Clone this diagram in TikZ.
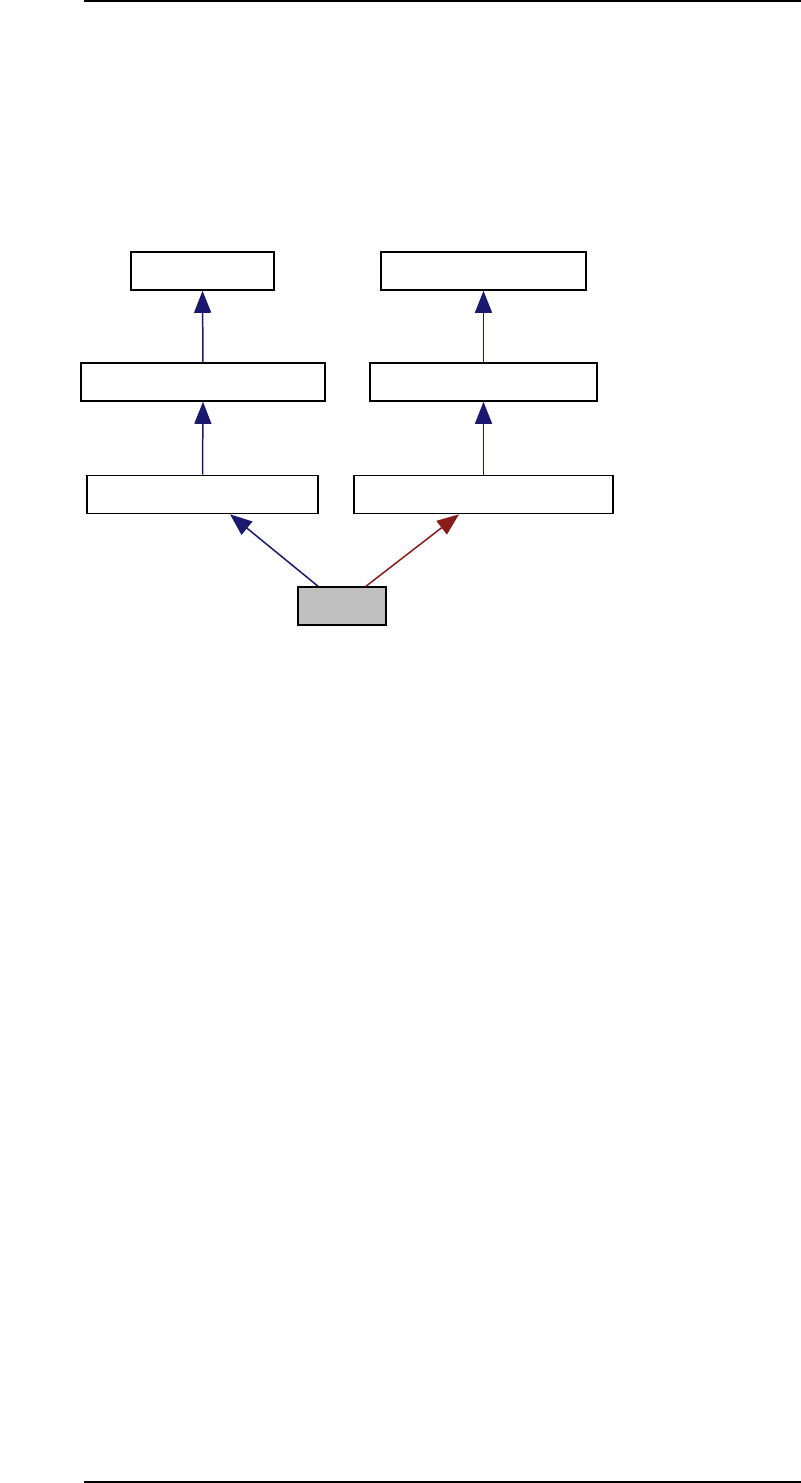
\documentclass[tikz,border=0pt]{standalone}
\usetikzlibrary{arrows.meta}
\definecolor{edgeblue}{HTML}{191970}
\definecolor{edgered}{HTML}{8B1A1A}
\definecolor{nodegray}{HTML}{BFBFBF}
\begin{document}
\begin{tikzpicture}[
  classbox/.style={draw, line width=0.9pt, fill=white, minimum height=0.76cm, inner sep=0pt},
  inherit/.style={-{Triangle[length=0.44cm, width=0.34cm]}, line width=0.85pt, edgeblue},
  usedby/.style={-{Triangle[length=0.44cm, width=0.34cm]}, line width=0.85pt, edgered}]
\useasboundingbox (0,0) rectangle (16.02,-29.66);
% page rules
\draw[line width=0.8pt] (1.68,-0.02) -- (16.02,-0.02);
\draw[line width=0.8pt] (1.68,-29.64) -- (16.02,-29.64);
% class boxes
\node[classbox, minimum width=2.86cm] (baseA) at (4.05,-5.42) {};
\node[classbox, minimum width=4.10cm] (baseB) at (9.67,-5.42) {};
\node[classbox, minimum width=4.88cm] (midA) at (4.06,-7.64) {};
\node[classbox, minimum width=4.54cm] (midB) at (9.67,-7.64) {};
\node[classbox, minimum width=4.62cm] (lowA) at (4.05,-9.89) {};
\node[classbox, minimum width=5.18cm] (lowB) at (9.67,-9.89) {};
\node[classbox, fill=nodegray, minimum width=1.76cm] (self) at (6.84,-12.12) {};
% edges
\draw[inherit] (midA.north) -- (baseA.south);
\draw[inherit] (midB.north) -- (baseB.south);
\draw[inherit] (lowA.north) -- (midA.south);
\draw[inherit] (lowB.north) -- (midB.south);
\draw[inherit] ([xshift=-0.48cm]self.north) -- ([xshift=0.55cm]lowA.south);
\draw[usedby] ([xshift=0.48cm]self.north) -- ([xshift=-0.49cm]lowB.south);
\end{tikzpicture}
\end{document}
